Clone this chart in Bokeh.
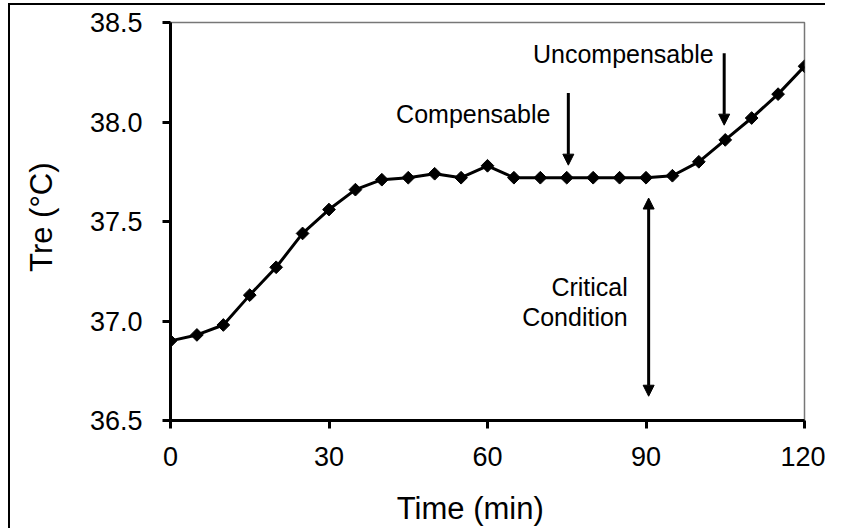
import numpy as np
from bokeh.plotting import figure
from bokeh.models import Range1d, FixedTicker, Label, Arrow, NormalHead, CustomJSTickFormatter
from bokeh.embed import file_html
from bokeh.resources import INLINE

# ---- data ----
time_min = [0, 5, 10, 15, 20, 25, 30, 35, 40, 45, 50, 55, 60,
            65, 70, 75, 80, 85, 90, 95, 100, 105, 110, 115, 120]
tre_c = [36.90, 36.93, 36.98, 37.13, 37.27, 37.44, 37.56, 37.66, 37.71, 37.72,
         37.74, 37.72, 37.78, 37.72, 37.72, 37.72, 37.72, 37.72, 37.72, 37.73,
         37.80, 37.91, 38.02, 38.14, 38.28]
x_ticks = [0, 30, 60, 90, 120]
y_ticks = [36.5, 37.0, 37.5, 38.0, 38.5]
x_title = "Time (min)"
y_title = "Tre (°C)"

FONT = "Liberation Sans"
NB = "\u00a0"

p = figure(width=825, height=528, output_backend="svg", toolbar_location=None,
           x_range=Range1d(0, 120), y_range=Range1d(36.5, 38.5),
           min_border_left=170, min_border_right=21, min_border_top=22, min_border_bottom=107)
p.border_fill_color = None
p.background_fill_color = None
p.styles = {"background": "linear-gradient(#000,#000) 8px 3px / 2px 100% no-repeat, "
                          "linear-gradient(#000,#000) 8px 3px / 100% 2px no-repeat, #ffffff"}

p.xgrid.visible = False
p.ygrid.visible = False
p.outline_line_color = "#777777"
p.outline_line_width = 1.5

for ax in (p.xaxis[0], p.yaxis[0]):
    ax.axis_line_width = 3
    ax.axis_line_color = "black"
    ax.major_tick_line_width = 3
    ax.major_tick_line_color = "black"
    ax.major_tick_out = 8
    ax.major_tick_in = 0
    ax.minor_tick_line_color = None
    ax.major_label_text_font = FONT
    ax.major_label_text_font_size = "27px"
    ax.major_label_text_color = "black"
    ax.axis_label_text_font = FONT
    ax.axis_label_text_font_size = "31px"
    ax.axis_label_text_font_style = "normal"
    ax.axis_label_text_color = "black"

p.xaxis.major_label_standoff = 18
p.yaxis.major_label_standoff = 20
p.xaxis.axis_label = x_title + NB * 4
p.xaxis.axis_label_standoff = 22
p.yaxis.axis_label = NB + y_title
p.yaxis.axis_label_standoff = 28

p.xaxis.ticker = FixedTicker(ticks=x_ticks)
p.yaxis.ticker = FixedTicker(ticks=y_ticks)
p.yaxis.formatter = CustomJSTickFormatter(code="return tick.toFixed(1);")

p.line(time_min, tre_c, line_color="black", line_width=3)
p.scatter(time_min, tre_c, marker="square", angle=np.pi / 4, size=9,
          fill_color="black", line_color="black")

# ---- annotations ----
ann_font = "25px"
def label(x, y, text):
    p.add_layout(Label(x=x, y=y, text=text, text_font=FONT, text_font_size=ann_font,
                       text_color="black", text_align="right", text_baseline="alphabetic"))

label(71.9, 38.039, "Compensable")
label(102.8, 38.34, "Uncompensable")
label(86.55, 37.17, "Critical")
label(86.55, 37.02, "Condition")

def head():
    return NormalHead(size=11, fill_color="black", line_color="black", line_width=1)

p.add_layout(Arrow(x_start=75.3, y_start=38.146, x_end=75.3, y_end=37.783,
                   line_width=3, end=head()))
p.add_layout(Arrow(x_start=104.8, y_start=38.345, x_end=104.8, y_end=37.984,
                   line_width=3, end=head()))
p.add_layout(Arrow(x_start=90.5, y_start=37.618, x_end=90.5, y_end=36.622,
                   line_width=3, start=head(), end=head()))

open("out.html", "w").write(file_html(p, INLINE))
